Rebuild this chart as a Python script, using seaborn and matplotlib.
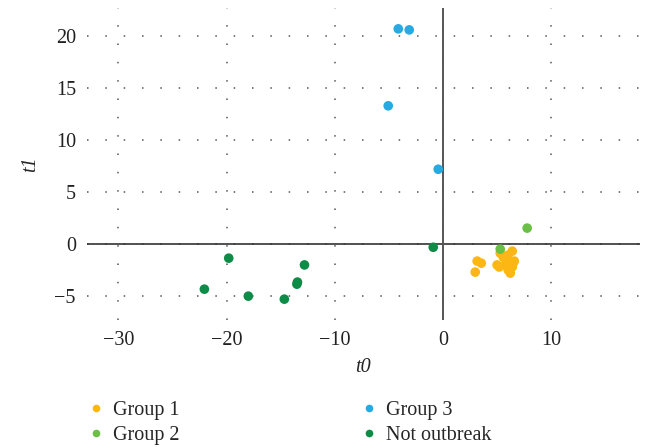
import numpy as np
import pandas as pd
import matplotlib
matplotlib.use("Agg")
import matplotlib.pyplot as plt
import seaborn as sns
from matplotlib.lines import Line2D

g1_t0 = [5.29, 6.40, 6.0, 5.57, 3.16, 3.54, 2.98, 5.0, 5.2, 6.59, 6.4, 5.94, 6.03, 6.22, 5.75, 6.5]
g1_t1 = [-0.87, -0.67, -1.06, -1.25, -1.63, -1.83, -2.69, -2.0, -2.2, -1.63, -2.2, -1.83, -2.5, -2.79, -2.0, -1.8]
g2_t0 = [7.78, 5.29]
g2_t1 = [1.54, -0.48]
g3_t0 = [-4.13, -3.12, -5.06, -0.44]
g3_t1 = [20.7, 20.6, 13.3, 7.2]
no_t0 = [-0.9, -19.8, -12.8, -13.45, -13.5, -22.05, -17.99, -14.66]
no_t1 = [-0.3, -1.35, -2.0, -3.65, -3.85, -4.33, -5.0, -5.29]

groups = ["Group 1", "Group 2", "Group 3", "Not outbreak"]
colors = ["#FDB714", "#6BBF45", "#27AAE1", "#0E8C47"]

df = pd.concat([
    pd.DataFrame({"t0": g1_t0, "t1": g1_t1, "group": groups[0]}),
    pd.DataFrame({"t0": g2_t0, "t1": g2_t1, "group": groups[1]}),
    pd.DataFrame({"t0": g3_t0, "t1": g3_t1, "group": groups[2]}),
    pd.DataFrame({"t0": no_t0, "t1": no_t1, "group": groups[3]}),
])

sns.set_style("white")
plt.rcParams["font.family"] = ["Liberation Serif", "DejaVu Serif"]

fig = plt.figure(figsize=(6.49, 4.47), dpi=100)
ax = fig.add_axes([0.134, 0.284, 0.852, 0.698])

sns.scatterplot(data=df, x="t0", y="t1", hue="group", hue_order=groups,
                palette=dict(zip(groups, colors)), s=48, edgecolor="none",
                legend=False, ax=ax, zorder=3)

ax.set_xlim(-32.9, 18.2)
ax.set_ylim(-7.3, 22.7)
ax.set_xticks([-30, -20, -10, 0, 10])
ax.set_yticks([-5, 0, 5, 10, 15, 20])
ax.set_xticklabels(["\u221230", "\u221220", "\u221210", "0", "10"])
ax.set_yticklabels(["\u22125", "0", "5", "10", "15", "20"])
ax.tick_params(axis="both", length=0, labelsize=14.5, pad=8, colors="#222222")
for s in ax.spines.values():
    s.set_visible(False)
ax.grid(True, color="#555555", linestyle=(0, (1, 11)), linewidth=1.1)
ax.axhline(0, color="#333333", lw=1.2, zorder=2)
ax.axvline(0, color="#555555", lw=1.4, zorder=2)

ax.set_xlabel("t0", fontsize=14.5, style="italic", labelpad=6)
ax.set_ylabel("t1", fontsize=14.5, style="italic", labelpad=10)

handles = [Line2D([], [], marker="o", linestyle="none", markersize=5.5,
                  markerfacecolor=c, markeredgecolor="none") for c in colors]
fig.legend(handles, groups,
           ncol=2, loc="lower left", bbox_to_anchor=(0.104, -0.036),
           frameon=False, fontsize=14.5, columnspacing=8.9, handletextpad=0.35,
           labelspacing=0.3, handlelength=1.0)

fig.savefig("out.png", dpi=100)
